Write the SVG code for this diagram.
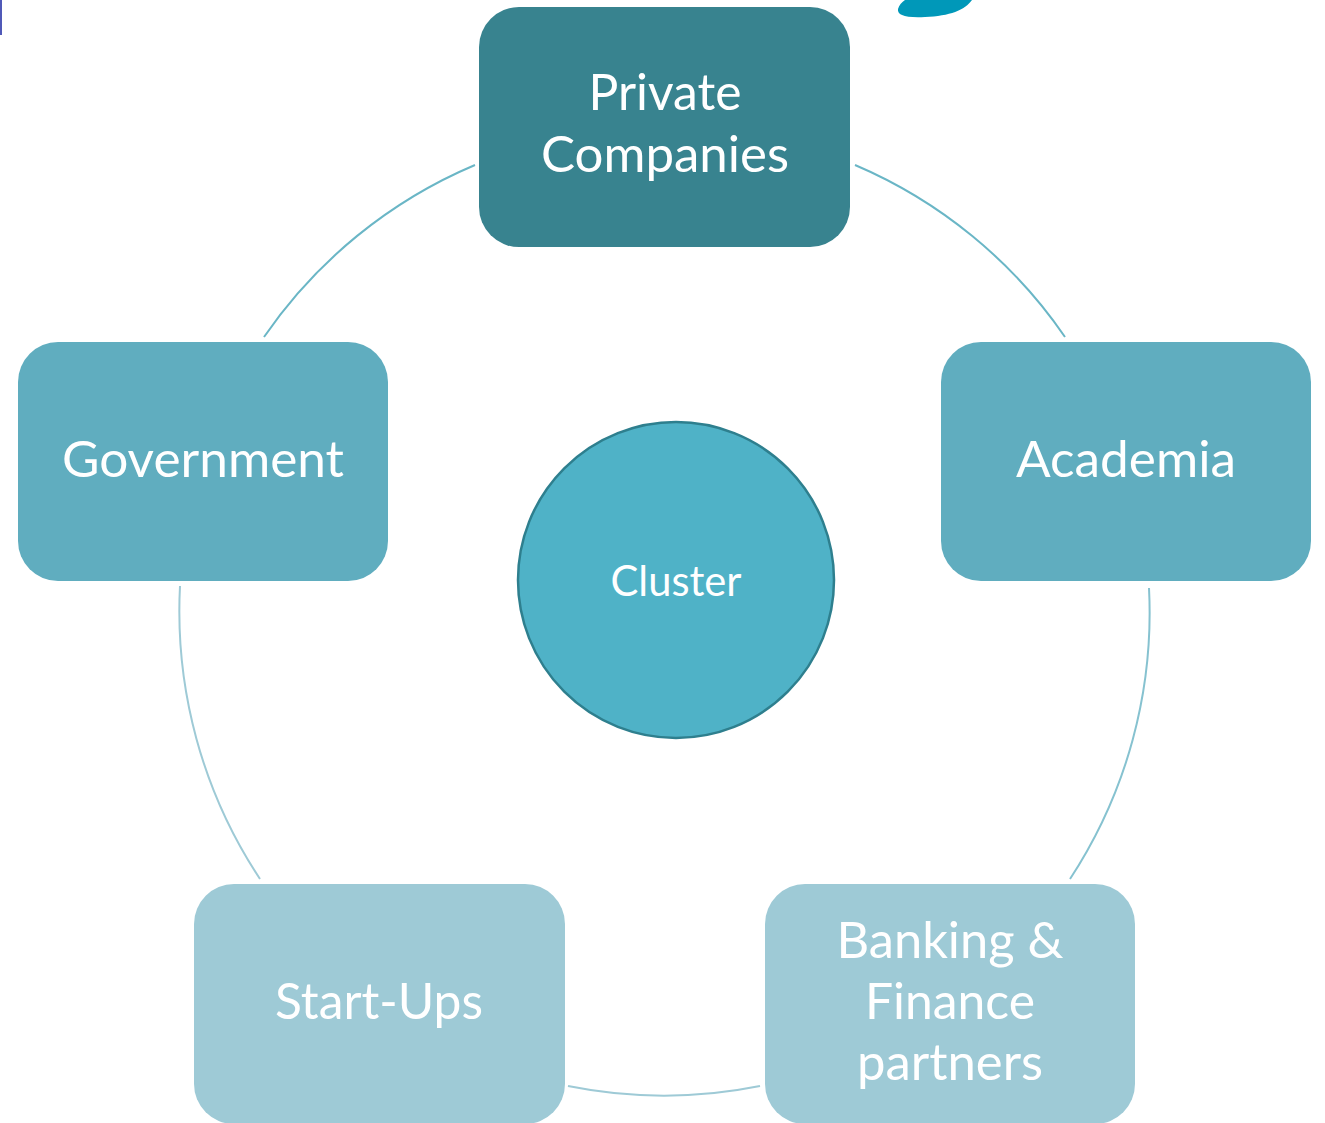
<svg xmlns="http://www.w3.org/2000/svg" width="1325" height="1123" viewBox="0 0 1325 1123">
  <style>
    .lbl { font-family: Lato, "Open Sans", "Liberation Sans", sans-serif; fill: #ffffff; text-anchor: middle; font-size: 50px; }
    .arc { fill: none; stroke-width: 2; }
  </style>
  <rect x="0" y="0" width="1325" height="1123" fill="#ffffff"/>
  <rect x="0" y="0" width="2" height="35" fill="#5059B8"/>
  <path d="M905,0 L972,0 C965,10 950,16 925,17 C905,18 897,15 898,9 C899,5 902,2 905,0 Z" fill="#0098B9"/>

  <g id="connectors">
    <path class="arc" stroke="#6AB6C6" d="M264,337 A485,485 0 0 1 475,165"/>
    <path class="arc" stroke="#6AB6C6" d="M855,165 A485,485 0 0 1 1065,337"/>
    <path class="arc" stroke="#86C2D0" d="M1149,588 A485,485 0 0 1 1070,879"/>
    <path class="arc" stroke="#9ECAD6" d="M760,1086 A485,485 0 0 1 568,1086"/>
    <path class="arc" stroke="#9ECAD6" d="M260,879 A485,485 0 0 1 180,586"/>
  </g>

  <g id="private-companies">
    <rect x="479" y="7" width="371" height="240" rx="40" fill="#38838F"/>
    <text class="lbl" x="665" y="110" textLength="153" lengthAdjust="spacingAndGlyphs">Private</text>
    <text class="lbl" x="665" y="172" textLength="248" lengthAdjust="spacingAndGlyphs">Companies</text>
  </g>
  <g id="government">
    <rect x="18" y="342" width="370" height="239" rx="40" fill="#60ADBF"/>
    <text class="lbl" x="203" y="477" textLength="282" lengthAdjust="spacingAndGlyphs">Government</text>
  </g>
  <g id="academia">
    <rect x="941" y="342" width="370" height="239" rx="40" fill="#60ADBF"/>
    <text class="lbl" x="1126" y="477" textLength="220" lengthAdjust="spacingAndGlyphs">Academia</text>
  </g>
  <g id="start-ups">
    <rect x="194" y="884" width="371" height="240" rx="40" fill="#9ECAD6"/>
    <text class="lbl" x="379" y="1019" textLength="208" lengthAdjust="spacingAndGlyphs">Start-Ups</text>
  </g>
  <g id="banking-finance">
    <rect x="765" y="884" width="370" height="240" rx="40" fill="#9ECAD6"/>
    <text class="lbl" x="950" y="958" textLength="227" lengthAdjust="spacingAndGlyphs">Banking &amp;</text>
    <text class="lbl" x="950" y="1019" textLength="170" lengthAdjust="spacingAndGlyphs">Finance</text>
    <text class="lbl" x="950" y="1080" textLength="186" lengthAdjust="spacingAndGlyphs">partners</text>
  </g>
  <g id="cluster">
    <circle cx="676" cy="580" r="158" fill="#4FB2C7" stroke="#2E7F8E" stroke-width="2.5"/>
    <text class="lbl" x="676" y="596" style="font-size:42px" textLength="131" lengthAdjust="spacingAndGlyphs">Cluster</text>
  </g>
</svg>
